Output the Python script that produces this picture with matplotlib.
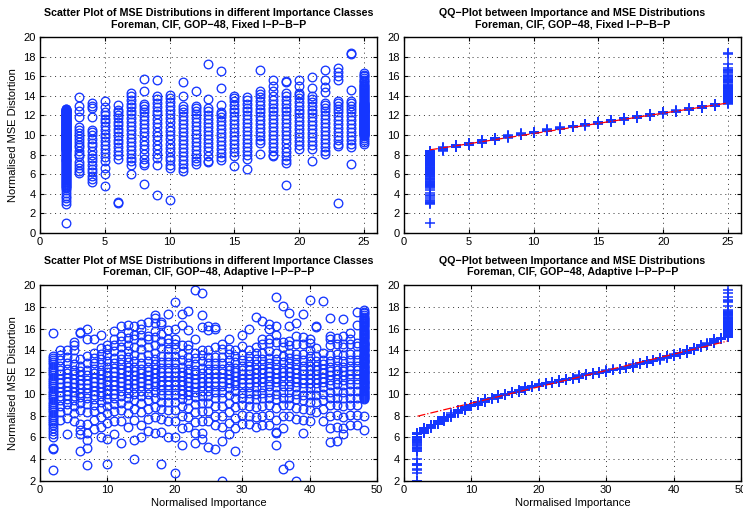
import numpy as np
import matplotlib
matplotlib.use("Agg")
import matplotlib.pyplot as plt

plt.rcParams['font.family'] = ['Liberation Sans', 'DejaVu Sans']

# Importance classes and MSE values per class
fixed_classes = list(range(2, 26))
fixed_mse = [
    # class 2
    [1.0, 3.0, 3.3, 3.6, 3.8, 4.1, 4.4, 4.6, 4.7, 4.8, 4.9, 5.0, 5.1, 5.2, 5.3, 5.4, 5.5, 5.6, 5.7, 5.8,
     5.9, 6.0, 6.1, 6.2, 6.3, 6.4, 6.5, 6.6, 6.7, 6.8, 6.9, 7.0, 7.1, 7.2, 7.3, 7.4, 7.5, 7.6, 7.7, 7.8,
     7.9, 8.0, 8.1, 8.2, 8.3,
     8.40, 8.45, 8.50, 8.55, 8.60, 8.65, 8.70, 8.75, 8.80, 8.85, 8.90, 8.95, 9.00, 9.05, 9.10, 9.15,
     9.20, 9.25, 9.30, 9.35, 9.40, 9.45, 9.50, 9.55, 9.60, 9.65, 9.70, 9.75, 9.80, 9.85, 9.90, 9.95,
     10.00, 10.05, 10.10, 10.15, 10.20, 10.25, 10.30, 10.35, 10.40, 10.45, 10.50, 10.55, 10.60, 10.65,
     10.70, 10.75, 10.80, 10.85, 10.90, 10.95, 11.00, 11.05, 11.10, 11.15, 11.20, 11.25, 11.30, 11.35,
     11.40, 11.45, 11.50, 11.55, 11.60, 11.65, 11.70, 11.75, 11.80, 11.85, 11.90, 11.95, 12.00, 12.05,
     12.10, 12.15, 12.20, 12.25, 12.30, 12.35, 12.40, 12.45, 12.50, 12.55, 12.60, 12.65, 12.70],
    [6.1, 6.3, 6.6, 6.9, 7.2, 7.9, 8.1, 8.4, 8.8, 9.0, 9.3, 9.6, 9.9, 10.2, 10.5, 10.8, 11.8, 12.4, 13.0, 13.9],
    [5.2, 5.5, 5.8, 6.2, 6.5, 6.9, 7.3, 7.7, 8.0, 8.4, 8.9, 9.2, 9.6, 10.0, 10.3, 10.5, 11.8, 12.8, 13.0, 13.3],
    [4.8, 6.0, 6.6, 7.3, 7.8, 8.2, 8.6, 9.0, 9.4, 9.8, 10.1, 10.5, 10.9, 11.3, 11.6, 12.0, 12.3, 12.9, 13.5],
    [3.1, 3.2, 7.6, 8.0, 8.4, 8.8, 9.2, 9.5, 9.9, 10.3, 10.6, 11.0, 11.3, 11.7, 12.0, 12.3, 12.6, 13.1],
    [6.0, 6.9, 7.3, 7.7, 8.1, 8.5, 8.9, 9.3, 9.7, 10.1, 10.5, 10.9, 11.3, 11.7, 12.1, 12.5, 12.9, 13.2, 13.6, 14.0, 14.3],
    [5.0, 6.9, 7.1, 7.6, 8.1, 8.6, 9.0, 9.4, 9.9, 10.3, 10.7, 11.1, 11.5, 11.9, 12.3, 12.7, 13.0, 13.2, 14.5, 15.7],
    [3.9, 6.9, 7.7, 8.1, 8.6, 9.0, 9.5, 9.9, 10.3, 10.8, 11.2, 11.6, 12.1, 12.5, 12.9, 13.3, 13.7, 14.0, 15.6],
    [3.4, 6.6, 6.9, 7.4, 7.8, 8.3, 8.7, 9.1, 9.6, 10.0, 10.4, 10.8, 11.3, 11.7, 12.1, 12.6, 13.0, 13.4, 13.8, 14.1],
    [6.3, 6.6, 7.0, 7.5, 7.9, 8.3, 8.7, 9.1, 9.5, 9.9, 10.3, 10.7, 11.1, 11.5, 11.9, 12.3, 12.7, 13.0, 14.0, 15.4],
    [7.0, 7.3, 7.7, 8.1, 8.5, 8.9, 9.3, 9.7, 10.1, 10.5, 10.9, 11.3, 11.7, 12.1, 12.5, 12.8, 13.0, 14.5],
    [7.2, 7.3, 7.9, 8.4, 8.8, 9.2, 9.6, 10.0, 10.4, 10.8, 11.2, 11.6, 12.0, 12.4, 12.8, 13.7, 17.2],
    [7.4, 7.8, 8.2, 8.6, 9.0, 9.4, 9.8, 10.2, 10.6, 11.0, 11.4, 11.8, 12.1, 12.3, 13.1, 14.8, 16.5],
    [6.8, 7.9, 8.3, 8.7, 9.1, 9.5, 9.9, 10.3, 10.7, 11.1, 11.5, 11.9, 12.3, 12.7, 13.1, 13.5, 13.8, 14.0],
    [6.5, 7.6, 8.0, 8.4, 8.8, 9.2, 9.6, 10.0, 10.4, 10.8, 11.2, 11.6, 12.0, 12.4, 12.8, 13.2, 13.6, 13.9],
    [8.1, 9.2, 9.5, 9.9, 10.3, 10.7, 11.1, 11.5, 11.9, 12.3, 12.7, 13.1, 13.5, 13.9, 14.2, 14.5, 16.6],
    [7.9, 8.0, 8.4, 8.8, 9.2, 9.6, 10.0, 10.4, 10.8, 11.2, 11.6, 12.0, 12.4, 12.8, 13.2, 13.6, 14.0, 14.5, 15.0, 15.6],
    [4.9, 7.1, 7.5, 7.9, 8.3, 8.7, 9.2, 9.6, 10.0, 10.4, 10.8, 11.2, 11.6, 12.0, 12.4, 12.8, 13.2, 13.6, 14.0, 14.3, 15.4, 15.5],
    [8.6, 9.0, 9.4, 9.8, 10.2, 10.6, 11.0, 11.4, 11.8, 12.2, 12.6, 13.0, 13.4, 13.8, 14.1, 14.3, 15.0, 15.6],
    [7.3, 8.6, 9.0, 9.4, 9.8, 10.2, 10.6, 11.0, 11.4, 11.8, 12.2, 12.6, 13.0, 13.4, 13.7, 14.0, 14.8, 15.9],
    [8.1, 8.4, 8.8, 9.2, 9.6, 10.0, 10.4, 10.8, 11.2, 11.6, 12.0, 12.4, 12.8, 13.1, 13.3, 14.4, 14.9, 15.6, 16.6],
    [3.1, 8.9, 9.1, 9.5, 9.9, 10.3, 10.7, 11.1, 11.5, 11.9, 12.3, 12.7, 13.0, 13.3, 13.5, 15.6, 16.0, 16.4, 16.8],
    [7.0, 8.8, 9.1, 9.5, 9.9, 10.3, 10.7, 11.1, 11.5, 11.9, 12.3, 12.7, 13.0, 13.3, 13.5, 14.6, 18.3, 18.4],
    # class 25
    [9.1, 9.3, 9.5, 9.7, 9.9,
     10.00, 10.05, 10.10, 10.15, 10.20, 10.25, 10.30, 10.35, 10.40, 10.45, 10.50, 10.55, 10.60, 10.65,
     10.70, 10.75, 10.80, 10.85, 10.90, 10.95, 11.00, 11.05, 11.10, 11.15, 11.20, 11.25, 11.30, 11.35,
     11.40, 11.45, 11.50, 11.55, 11.60, 11.65, 11.70, 11.75, 11.80, 11.85, 11.90, 11.95, 12.00, 12.05,
     12.10, 12.15, 12.20, 12.25, 12.30, 12.35, 12.40, 12.45, 12.50, 12.55, 12.60, 12.65, 12.70, 12.75,
     12.80, 12.85, 12.90, 12.95, 13.00, 13.05, 13.10, 13.15, 13.20, 13.25, 13.30,
     13.4, 13.5, 13.6, 13.7, 13.8, 13.9, 14.0, 14.1, 14.2, 14.3, 14.4, 14.5, 14.6, 14.7, 14.8, 14.9,
     15.0, 15.1, 15.2, 15.4, 15.5, 15.6, 15.8, 16.0, 16.1, 16.3],
]

adaptive_classes = list(range(2, 49))
adaptive_mse = [
    # class 2
    [3.0, 4.9, 5.0, 6.0, 6.3, 6.6, 6.9, 7.1, 7.3, 7.5, 7.7, 7.9, 8.1, 8.3, 8.5, 8.7, 8.9, 9.1, 9.3, 9.5,
     9.7, 9.9, 10.1, 10.3, 10.5, 10.7, 10.9, 11.1, 11.3, 11.5, 11.7, 11.9, 12.1, 12.3, 12.5, 12.7, 12.9,
     13.1, 13.3, 13.5, 15.6],
    [7.6, 8.3, 8.9, 9.4, 9.8, 10.2, 10.6, 11.0, 11.4, 11.8, 12.2, 12.6, 13.1, 13.6, 14.0],
    [6.3, 7.8, 8.5, 9.1, 9.5, 9.9, 10.3, 10.7, 11.1, 11.5, 11.9, 12.3, 12.8, 13.4, 14.0],
    [7.5, 8.2, 8.9, 9.4, 9.8, 10.2, 10.6, 11.0, 11.4, 11.8, 12.2, 12.7, 13.3, 14.0, 14.5, 14.8],
    [4.8, 6.3, 6.7, 7.2, 8.5, 9.2, 9.7, 10.1, 10.5, 10.9, 11.3, 11.7, 12.1, 12.6, 13.2, 15.6, 15.7],
    [3.5, 5.0, 5.8, 6.4, 7.2, 8.3, 9.1, 9.6, 10.1, 10.5, 10.9, 11.3, 11.7, 12.2, 12.8, 13.5, 15.0, 16.0],
    [6.8, 7.6, 8.4, 9.0, 9.5, 9.9, 10.3, 10.7, 11.1, 11.5, 11.9, 12.3, 12.8, 13.3, 13.8, 15.0],
    [6.0, 7.0, 7.9, 8.7, 9.3, 9.8, 10.2, 10.6, 11.0, 11.4, 11.8, 12.2, 12.7, 13.2, 13.7, 14.2, 15.4],
    [3.6, 5.9, 7.3, 8.2, 8.9, 9.5, 10.0, 10.4, 10.8, 11.2, 11.6, 12.0, 12.5, 13.0, 13.6, 14.1, 14.5],
    [6.3, 7.5, 8.4, 9.1, 9.6, 10.0, 10.4, 10.8, 11.2, 11.6, 12.0, 12.4, 12.8, 13.3, 13.9, 14.5, 15.0, 15.8],
    [5.5, 7.5, 8.5, 9.2, 9.8, 10.3, 10.7, 11.1, 11.5, 11.9, 12.3, 12.7, 13.2, 13.7, 14.3, 14.9, 15.3, 16.2],
    [7.0, 8.2, 9.0, 9.6, 10.1, 10.5, 10.9, 11.3, 11.7, 12.1, 12.5, 12.9, 13.4, 13.9, 14.5, 15.1, 15.7, 16.3],
    [4.0, 5.8, 7.6, 8.6, 9.4, 10.0, 10.5, 10.9, 11.3, 11.7, 12.1, 12.5, 13.0, 13.6, 14.3, 15.0, 15.4, 16.2],
    [6.0, 7.1, 8.3, 9.2, 9.8, 10.3, 10.7, 11.1, 11.5, 11.9, 12.3, 12.8, 13.4, 14.1, 14.8, 15.4, 16.0, 16.4],
    [6.6, 7.7, 8.6, 9.4, 10.0, 10.5, 10.9, 11.3, 11.7, 12.1, 12.5, 13.0, 13.6, 14.3, 15.0, 15.3, 16.6],
    [6.4, 7.9, 8.8, 9.6, 10.2, 10.7, 11.1, 11.5, 11.9, 12.3, 12.7, 13.2, 13.8, 14.5, 15.2, 15.8, 16.5, 17.0, 17.2],
    [3.6, 6.5, 7.7, 8.6, 9.3, 9.9, 10.4, 10.8, 11.2, 11.6, 12.0, 12.4, 12.9, 13.5, 14.2, 14.9, 15.5, 16.4, 16.6],
    [6.0, 7.5, 8.5, 9.3, 9.9, 10.4, 10.8, 11.2, 11.6, 12.0, 12.4, 12.9, 13.5, 14.1, 14.7, 15.0, 15.9, 17.3],
    [2.7, 6.0, 7.5, 8.5, 9.3, 9.9, 10.4, 10.8, 11.2, 11.6, 12.0, 12.4, 12.9, 13.5, 14.1, 14.6, 15.0, 16.0, 18.4],
    [5.3, 6.9, 8.0, 8.9, 9.5, 10.0, 10.4, 10.8, 11.2, 11.6, 12.0, 12.5, 13.1, 13.7, 14.5, 16.3, 17.3],
    [7.0, 7.9, 8.7, 9.4, 9.9, 10.3, 10.7, 11.1, 11.5, 11.9, 12.3, 12.8, 13.4, 14.1, 14.5, 15.9, 17.6],
    [5.5, 6.4, 7.4, 8.3, 9.1, 9.7, 10.2, 10.6, 11.0, 11.4, 11.8, 12.2, 12.7, 13.3, 13.8, 15.0, 19.5],
    [5.9, 6.4, 7.5, 8.4, 9.2, 9.8, 10.3, 10.7, 11.1, 11.5, 11.9, 12.4, 13.0, 13.6, 14.0, 16.1, 17.2, 19.3],
    [5.1, 7.5, 8.4, 9.2, 9.8, 10.3, 10.7, 11.1, 11.5, 11.9, 12.3, 12.8, 13.4, 14.0, 15.9, 16.2],
    [4.9, 7.1, 8.0, 8.9, 9.6, 10.2, 10.7, 11.1, 11.5, 11.9, 12.3, 12.8, 13.4, 14.3, 16.0, 16.1],
    [2.0, 5.7, 7.0, 8.0, 8.9, 9.6, 10.2, 10.7, 11.1, 11.5, 11.9, 12.3, 12.8, 13.4, 14.1, 14.6],
    [6.3, 7.3, 8.3, 9.2, 9.9, 10.5, 11.0, 11.4, 11.8, 12.2, 12.6, 13.1, 13.7, 14.1, 15.0],
    [4.8, 6.9, 7.8, 8.8, 9.6, 10.3, 10.8, 11.2, 11.6, 12.0, 12.4, 12.9, 13.5, 14.0],
    [7.2, 8.1, 9.0, 9.6, 10.1, 10.6, 11.0, 11.4, 11.8, 12.2, 12.6, 13.1, 13.6, 14.4, 15.4],
    [7.2, 8.0, 8.9, 9.5, 10.1, 10.6, 11.0, 11.4, 11.8, 12.2, 12.6, 13.0, 13.5, 14.0, 16.0],
    [7.0, 7.9, 8.8, 9.5, 10.0, 10.6, 11.1, 11.5, 11.9, 12.3, 12.7, 13.2, 13.8, 14.3, 17.1],
    [7.1, 8.0, 8.9, 9.6, 10.1, 10.6, 11.1, 11.5, 11.9, 12.3, 12.7, 13.2, 13.8, 14.6, 15.0, 16.7],
    [7.1, 8.1, 9.0, 9.6, 10.2, 10.7, 11.2, 11.6, 12.0, 12.4, 12.8, 13.3, 13.9, 14.7, 15.0, 16.0, 16.4],
    [5.3, 6.4, 6.5, 7.6, 8.7, 9.5, 10.0, 10.6, 11.1, 11.5, 11.9, 12.3, 12.7, 13.2, 13.8, 14.8, 15.4, 16.2, 18.9],
    [3.1, 6.9, 8.0, 9.0, 9.6, 10.2, 10.7, 11.2, 11.6, 12.0, 12.4, 12.9, 13.5, 14.3, 14.8, 18.1],
    [3.5, 8.0, 9.0, 9.6, 10.2, 10.7, 11.2, 11.6, 12.0, 12.4, 12.8, 13.3, 13.8, 14.5, 14.9, 16.2, 17.4],
    [2.0, 7.7, 8.7, 9.5, 10.0, 10.6, 11.1, 11.5, 11.9, 12.3, 12.7, 13.2, 13.7, 14.6, 15.3, 16.5],
    [6.4, 7.6, 8.6, 9.4, 9.9, 10.5, 11.0, 11.4, 11.8, 12.2, 12.6, 13.1, 13.7, 14.6, 15.2, 17.3],
    [7.5, 8.5, 9.3, 9.9, 10.5, 11.0, 11.4, 11.8, 12.2, 12.6, 13.0, 13.5, 14.0, 14.7, 15.0, 18.6],
    [8.3, 9.3, 9.9, 10.5, 11.0, 11.4, 11.8, 12.2, 12.6, 13.0, 13.5, 14.2, 16.1, 16.2],
    [7.5, 8.6, 9.4, 10.0, 10.6, 11.1, 11.5, 11.9, 12.3, 12.7, 13.1, 13.8, 18.5],
    [5.6, 6.9, 8.0, 9.0, 9.6, 10.2, 10.8, 11.3, 11.7, 12.1, 12.5, 13.0, 13.6, 14.5, 15.0, 15.3, 17.0],
    [5.7, 7.0, 8.1, 9.0, 9.6, 10.3, 10.9, 11.4, 11.8, 12.2, 12.6, 13.1, 13.7, 14.6, 15.1],
    [6.3, 6.9, 7.9, 8.9, 9.6, 10.2, 10.8, 11.3, 11.7, 12.1, 12.5, 13.0, 13.6, 14.3, 14.6, 15.3, 16.9],
    [7.1, 8.1, 9.0, 9.6, 10.3, 10.9, 11.4, 11.8, 12.2, 12.6, 13.1, 13.7, 14.6, 15.0, 15.6],
    [7.1, 8.1, 9.0, 9.6, 10.3, 10.9, 11.4, 11.8, 12.2, 12.6, 13.1, 13.7, 14.4, 14.7, 16.3, 17.5],
    # class 48
    [6.7, 8.0, 9.5, 9.6, 9.7, 9.8, 9.9, 10.0, 10.1, 10.2, 10.3, 10.4, 10.5, 10.6, 10.7, 10.8, 10.9,
     11.0, 11.1, 11.2, 11.3, 11.4, 11.5, 11.6, 11.7, 11.8, 11.9, 12.0, 12.1, 12.2, 12.3, 12.4, 12.5,
     12.6, 12.7, 12.8, 12.9, 13.0, 13.1, 13.2, 13.3, 13.4, 13.5, 13.6, 13.7, 13.8, 13.9, 14.0, 14.1,
     14.2, 14.3, 14.4, 14.5, 14.6, 14.7, 14.8, 14.9, 15.0, 15.1, 15.2, 12.05, 12.55, 13.05, 13.55,
     14.05, 14.55, 11.55, 11.05, 10.55, 15.3, 15.4, 15.5, 15.6, 15.7, 15.8, 15.9, 16.0, 16.1, 16.2,
     16.3, 16.4, 16.5, 16.6, 16.7, 16.8, 16.9, 17.0, 17.1, 17.2, 17.4, 17.5, 17.7],
]

blue = '#1536ff'
fig = plt.figure(figsize=(7.43, 5.14), dpi=100)

W, H = 743.0, 514.0
ax_tl = fig.add_axes([40 / W, (H - 233) / H, 337 / W, 196 / H])
ax_tr = fig.add_axes([404 / W, (H - 233) / H, 337 / W, 196 / H])
ax_bl = fig.add_axes([40 / W, (H - 481) / H, 337 / W, 196 / H])
ax_br = fig.add_axes([404 / W, (H - 481) / H, 337 / W, 196 / H])


def flatten(classes, values):
    xs, ys = [], []
    for c, vals in zip(classes, values):
        xs.extend([c] * len(vals))
        ys.extend(vals)
    return np.array(xs, float), np.array(ys, float)


def style(ax, xmax, ymin):
    ax.set_xlim(0, xmax)
    ax.set_ylim(ymin, 20)
    ax.grid(True, color='#333333', linestyle=(0, (1, 4)), linewidth=0.7)
    ax.tick_params(direction='in', length=3, labelsize=8, top=True, right=True, pad=3)
    for s in ax.spines.values():
        s.set_linewidth(1.0)


def scatter_panel(ax, classes, values):
    x, y = flatten(classes, values)
    ax.plot(x, y, 'o', ms=6.2, mfc='none', mec=blue, mew=0.95, ls='none')


def qq_panel(ax, classes, values):
    # qqplot of the two samples: sorted importance against sorted MSE,
    # with the reference line through the first and third quartiles
    x, y = flatten(classes, values)
    xs, ys = np.sort(x), np.sort(y)
    qx = np.percentile(xs, [25, 75])
    qy = np.percentile(ys, [25, 75])
    slope = (qy[1] - qy[0]) / (qx[1] - qx[0])
    lx = np.array([xs.min(), xs.max()])
    ly = qy[0] + slope * (lx - qx[0])
    ax.plot(xs, ys, '+', ms=6.5, mew=1.1, color=blue, ls='none', zorder=2)
    ax.plot(lx, ly, '-.', color='red', lw=0.9, zorder=3)


title_kw = dict(fontsize=7.7, fontweight='bold', pad=7, linespacing=1.15)
label_kw = dict(fontsize=8)

scatter_panel(ax_tl, fixed_classes, fixed_mse)
style(ax_tl, 26, 0)
ax_tl.set_xticks(range(0, 26, 5))
ax_tl.set_yticks(range(0, 21, 2))
ax_tl.set_ylabel('Normalised MSE Distortion', **label_kw)
ax_tl.set_title('Scatter Plot of MSE Distributions in different Importance Classes\n'
                'Foreman, CIF, GOP\u221248, Fixed I\u2212P\u2212B\u2212P', **title_kw)

qq_panel(ax_tr, fixed_classes, fixed_mse)
style(ax_tr, 26, 0)
ax_tr.set_xticks(range(0, 26, 5))
ax_tr.set_yticks(range(0, 21, 2))
ax_tr.set_title('QQ\u2212Plot between Importance and MSE Distributions\n'
                'Foreman, CIF, GOP\u221248, Fixed I\u2212P\u2212B\u2212P', **title_kw)

scatter_panel(ax_bl, adaptive_classes, adaptive_mse)
style(ax_bl, 50, 2)
ax_bl.set_xticks(range(0, 51, 10))
ax_bl.set_yticks(range(2, 21, 2))
ax_bl.set_ylabel('Normalised MSE Distortion', **label_kw)
ax_bl.set_xlabel('Normalised Importance', labelpad=2, **label_kw)
ax_bl.set_title('Scatter Plot of MSE Distributions in different Importance Classes\n'
                'Foreman, CIF, GOP\u221248, Adaptive I\u2212P\u2212P\u2212P', **title_kw)

qq_panel(ax_br, adaptive_classes, adaptive_mse)
style(ax_br, 50, 2)
ax_br.set_xticks(range(0, 51, 10))
ax_br.set_yticks(range(2, 21, 2))
ax_br.set_xlabel('Normalised Importance', labelpad=2, **label_kw)
ax_br.set_title('QQ\u2212Plot between Importance and MSE Distributions\n'
                'Foreman, CIF, GOP\u221248, Adaptive I\u2212P\u2212P\u2212P', **title_kw)

fig.savefig('out.png', dpi=100)
